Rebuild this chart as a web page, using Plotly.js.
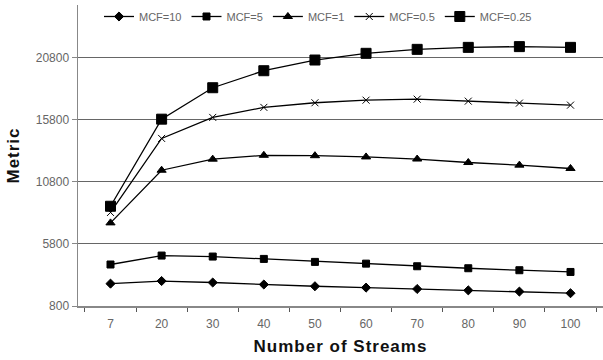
<!DOCTYPE html>
<html>
<head>
<meta charset="utf-8">
<script src="https://cdn.plot.ly/plotly-3.0.1.min.js"></script>
<style>
body{margin:0;padding:0;background:#fff;}
#chart{width:603px;height:360px;}
.xtitle, .ytitle {letter-spacing: 1px;}
</style>
</head>
<body>
<div id="chart"></div>
<script>
var streams = ["7","20","30","40","50","60","70","80","90","100"];
var mcf10  = [2600, 2810, 2690, 2530, 2390, 2280, 2170, 2060, 1960, 1830];
var mcf5   = [4140, 4860, 4780, 4590, 4350, 4210, 4000, 3840, 3680, 3540];
var mcf1   = [7490, 11730, 12620, 12930, 12900, 12800, 12630, 12350, 12140, 11870];
var mcf05  = [8330, 14290, 15980, 16790, 17160, 17370, 17450, 17290, 17130, 16970];
var mcf025 = [8830, 15840, 18370, 19740, 20600, 21140, 21460, 21620, 21680, 21620];
var names  = ["MCF=10", "MCF=5", "MCF=1", "MCF=0.5", "MCF=0.25"];
var yTicks = [800, 5800, 10800, 15800, 20800];

var series = [mcf10, mcf5, mcf1, mcf05, mcf025];
var symbols = ["diamond", "square", "triangle-up", "x-thin", "square"];
var sizes = [7, 7, 8, 7, 10];
var traces = series.map(function(s, i){
  return {
    x: streams, y: s, name: names[i], type: "scatter", mode: "lines+markers",
    line: {color: "#000", width: 1.3},
    marker: {symbol: symbols[i], size: sizes[i], color: "#000", line: {color: "#000", width: 1}}
  };
});

var layout = {
  width: 603, height: 360,
  margin: {l: 78, r: 0, t: 5, b: 54},
  paper_bgcolor: "#fff", plot_bgcolor: "#fff",
  font: {family: "Liberation Sans, Arial, sans-serif", color: "#666", size: 11},
  showlegend: true,
  legend: {orientation: "h", x: 0.04, y: 1.01, xanchor: "left", yanchor: "top",
           font: {size: 11, color: "#666"}, itemwidth: 30, tracegroupgap: 0,
           bgcolor: "rgba(0,0,0,0)"},
  xaxis: {
    type: "category", tickson: "boundaries", ticks: "outside", ticklen: 4, tickcolor: "#555",
    showline: true, linecolor: "#888", linewidth: 1.5, showgrid: false, zeroline: false,
    tickfont: {size: 12, color: "#666"}, ticklabelstandoff: 6,
    title: {text: "Number of Streams", font: {size: 17, color: "#111", family: "Liberation Sans, Arial, sans-serif", weight: "bold"}, standoff: 10}
  },
  yaxis: {
    range: [800, 25030], tickvals: yTicks, ticktext: yTicks.map(String),
    ticks: "outside", ticklen: 5, tickcolor: "#888",
    showline: true, linecolor: "#888", linewidth: 1.5,
    showgrid: true, gridcolor: "#666", gridwidth: 1, zeroline: false,
    tickfont: {size: 12, color: "#666"},
    title: {text: "Metric", font: {size: 17, color: "#111", family: "Liberation Sans, Arial, sans-serif", weight: "bold"}, standoff: 12}
  }
};

Plotly.newPlot("chart", traces, layout, {displayModeBar: false, staticPlot: true});
</script>
</body>
</html>
